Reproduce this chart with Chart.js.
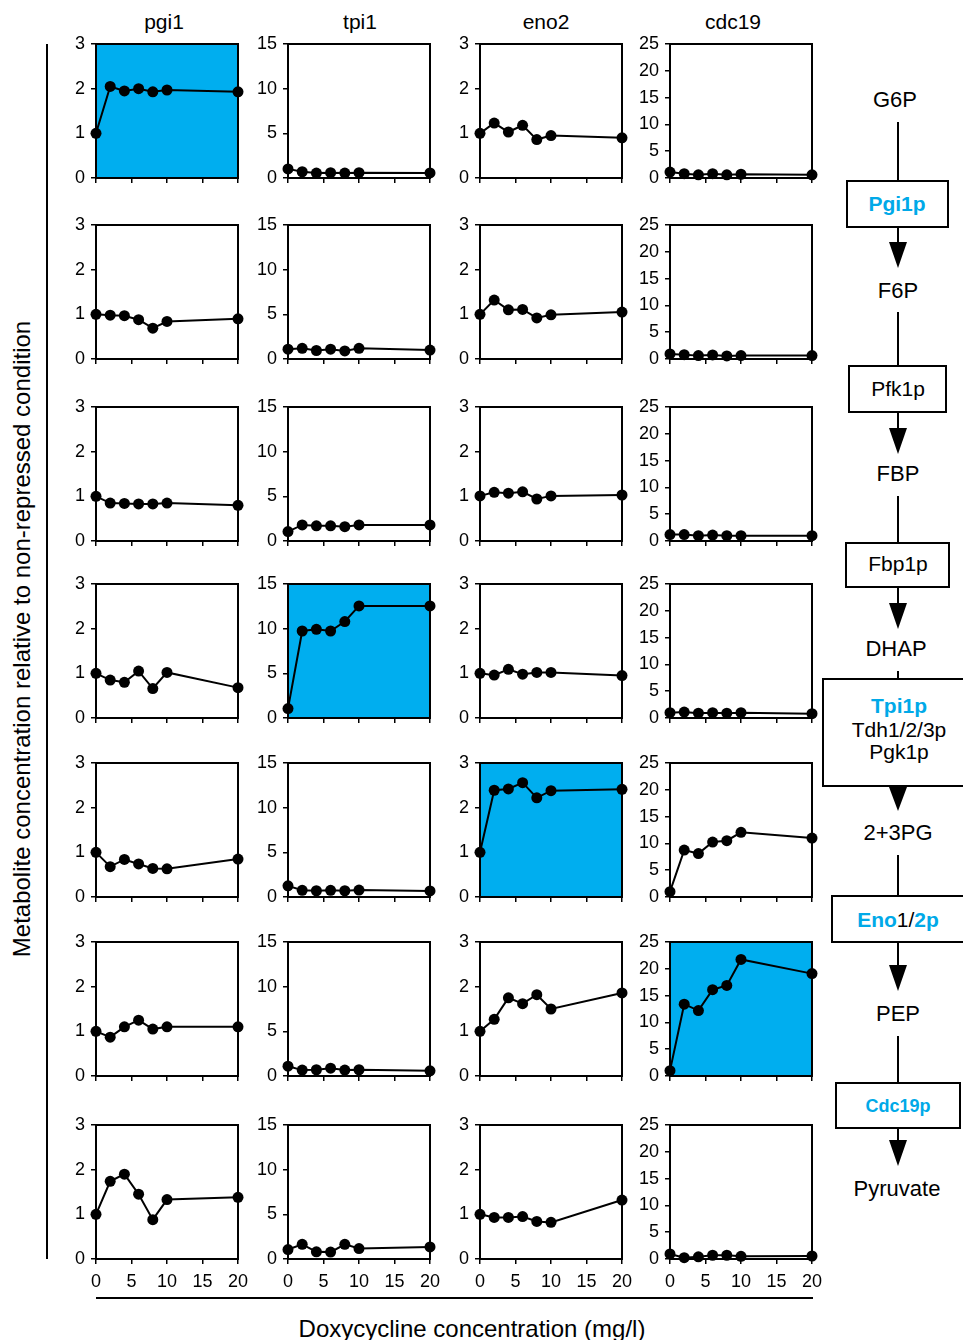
<!DOCTYPE html>
<html>
<head>
<meta charset="utf-8">
<script src="https://cdn.jsdelivr.net/npm/chart.js@4.4.1/dist/chart.umd.min.js"></script>
<style>
  html, body { margin: 0; padding: 0; background: #fff; }
  #page { position: relative; width: 963px; height: 1340px; overflow: hidden; }
  #page canvas { position: absolute; }
  #deco { position: absolute; left: 0; top: 0; }
</style>
</head>
<body>
<div id="page">
<svg id="deco" width="963" height="1340" xmlns="http://www.w3.org/2000/svg"
     font-family="'Liberation Sans', Arial, sans-serif">
  <!-- column titles -->
  <g font-size="21" text-anchor="middle" fill="#000">
    <text x="164" y="29">pgi1</text>
    <text x="360" y="29">tpi1</text>
    <text x="546" y="29">eno2</text>
    <text x="733" y="29">cdc19</text>
  </g>
  <!-- axis titles and frame lines -->
  <line x1="47" y1="44" x2="47" y2="1259" stroke="#000" stroke-width="2"/>
  <text transform="translate(30,639) rotate(-90)" font-size="24" text-anchor="middle">Metabolite concentration relative to non-repressed condition</text>
  <line x1="96" y1="1298" x2="813" y2="1298" stroke="#000" stroke-width="2"/>
  <text x="472" y="1337" font-size="24" text-anchor="middle">Doxycycline concentration (mg/l)</text>

  <!-- pathway -->
  <g font-size="22" text-anchor="middle" fill="#000">
    <text x="895" y="107">G6P</text>
    <text x="898" y="298">F6P</text>
    <text x="898" y="481">FBP</text>
    <text x="896" y="656">DHAP</text>
    <text x="898" y="840">2+3PG</text>
    <text x="898" y="1021">PEP</text>
    <text x="897" y="1196">Pyruvate</text>
  </g>
  <g stroke="#000" stroke-width="2" fill="none">
    <line x1="898" y1="122" x2="898" y2="181"/>
    <line x1="898" y1="312" x2="898" y2="366"/>
    <line x1="898" y1="496" x2="898" y2="543"/>
    <line x1="898" y1="671" x2="898" y2="679"/>
    <line x1="898" y1="855" x2="898" y2="896"/>
    <line x1="898" y1="1036" x2="898" y2="1083"/>

    <line x1="898" y1="227" x2="898" y2="244"/>
    <line x1="898" y1="412" x2="898" y2="429"/>
    <line x1="898" y1="587" x2="898" y2="604"/>
    <line x1="898" y1="942" x2="898" y2="966"/>
    <line x1="898" y1="1128" x2="898" y2="1141"/>

    <rect x="847" y="181" width="101" height="46" fill="#fff"/>
    <rect x="849" y="366" width="97" height="46" fill="#fff"/>
    <rect x="846" y="543" width="103" height="44" fill="#fff"/>
    <rect x="823" y="679" width="160" height="107" fill="#fff"/>
    <rect x="832" y="896" width="150" height="46" fill="#fff"/>
    <rect x="836" y="1083" width="124" height="45" fill="#fff"/>
  </g>
  <g fill="#000">
    <polygon points="889,242 907,242 898,268"/>
    <polygon points="889,428 907,428 898,454"/>
    <polygon points="889,603 907,603 898,629"/>
    <polygon points="889,787 907,787 898,811"/>
    <polygon points="889,965 907,965 898,991"/>
    <polygon points="889,1140 907,1140 898,1166"/>
  </g>
  <g text-anchor="middle" font-size="21">
    <text x="897" y="211" fill="#00A9E8" font-weight="bold">Pgi1p</text>
    <text x="898" y="396" fill="#000">Pfk1p</text>
    <text x="898" y="571" fill="#000">Fbp1p</text>
    <text x="899" y="713" fill="#00A9E8" font-weight="bold">Tpi1p</text>
    <text x="899" y="737" fill="#000">Tdh1/2/3p</text>
    <text x="899" y="759" fill="#000">Pgk1p</text>
    <text x="898" y="927"><tspan fill="#00A9E8" font-weight="bold">Eno</tspan><tspan fill="#000">1/</tspan><tspan fill="#00A9E8" font-weight="bold">2p</tspan></text>
    <text x="898" y="1112" fill="#00A9E8" font-weight="bold" font-size="18">Cdc19p</text>
  </g>
</svg>
</div>
<script>
// doxycycline concentrations (mg/l)
const doxy = [0, 2, 4, 6, 8, 10, 20];
const xTicks = [0, 5, 10, 15, 20];

const strains = ['pgi1', 'tpi1', 'eno2', 'cdc19'];
const metabolites = ['G6P', 'F6P', 'FBP', 'DHAP', '2+3PG', 'PEP', 'Pyruvate'];

// y tick labels per strain column
const yTicksPgi1 = [0, 1, 2, 3];
const yTicksTpi1 = [0, 5, 10, 15];
const yTicksEno2 = [0, 1, 2, 3];
const yTicksCdc19 = [0, 5, 10, 15, 20, 25];

// which metabolite row is shaded for each strain
const shadedRow = [0, 3, 4, 5];

// G6P
const g6pPgi1 = [1.0, 2.05, 1.95, 2.0, 1.93, 1.97, 1.93];
const g6pTpi1 = [1.02, 0.7, 0.55, 0.6, 0.55, 0.6, 0.57];
const g6pEno2 = [1.0, 1.23, 1.03, 1.18, 0.86, 0.95, 0.9];
const g6pCdc19 = [1.1, 0.8, 0.6, 0.8, 0.6, 0.7, 0.6];
// F6P
const f6pPgi1 = [1.0, 0.98, 0.97, 0.88, 0.69, 0.84, 0.9];
const f6pTpi1 = [1.1, 1.2, 0.95, 1.1, 0.9, 1.2, 1.0];
const f6pEno2 = [1.0, 1.32, 1.1, 1.11, 0.92, 0.99, 1.05];
const f6pCdc19 = [0.94, 0.8, 0.63, 0.75, 0.57, 0.63, 0.63];
// FBP
const fbpPgi1 = [1.0, 0.85, 0.84, 0.83, 0.83, 0.85, 0.8];
const fbpTpi1 = [1.05, 1.8, 1.7, 1.7, 1.6, 1.8, 1.8];
const fbpEno2 = [1.01, 1.09, 1.07, 1.1, 0.94, 1.01, 1.03];
const fbpCdc19 = [1.2, 1.2, 1.0, 1.1, 1.0, 1.0, 1.0];
// DHAP
const dhapPgi1 = [1.0, 0.85, 0.8, 1.05, 0.66, 1.02, 0.68];
const dhapTpi1 = [1.05, 9.74, 9.93, 9.74, 10.8, 12.55, 12.55];
const dhapEno2 = [1.0, 0.96, 1.09, 0.98, 1.02, 1.02, 0.95];
const dhapCdc19 = [1.0, 1.1, 0.9, 1.0, 0.9, 1.0, 0.8];
// 2+3PG
const pgPgi1 = [1.0, 0.68, 0.84, 0.74, 0.64, 0.63, 0.85];
const pgTpi1 = [1.25, 0.75, 0.7, 0.75, 0.7, 0.78, 0.68];
const pgEno2 = [1.0, 2.39, 2.42, 2.56, 2.22, 2.38, 2.41];
const pgCdc19 = [1.0, 8.75, 8.1, 10.25, 10.5, 12.06, 11.0];
// PEP
const pepPgi1 = [1.0, 0.87, 1.1, 1.25, 1.05, 1.1, 1.1];
const pepTpi1 = [1.1, 0.66, 0.7, 0.88, 0.66, 0.7, 0.58];
const pepEno2 = [1.0, 1.27, 1.75, 1.62, 1.82, 1.5, 1.86];
const pepCdc19 = [1.0, 13.4, 12.2, 16.1, 16.9, 21.75, 19.1];
// Pyruvate
const pyrPgi1 = [1.0, 1.74, 1.9, 1.45, 0.88, 1.33, 1.38];
const pyrTpi1 = [1.06, 1.64, 0.8, 0.77, 1.64, 1.17, 1.35];
const pyrEno2 = [1.0, 0.93, 0.93, 0.95, 0.84, 0.82, 1.32];
const pyrCdc19 = [0.94, 0.25, 0.4, 0.7, 0.7, 0.5, 0.56];

const grid = [
  [g6pPgi1, g6pTpi1, g6pEno2, g6pCdc19],
  [f6pPgi1, f6pTpi1, f6pEno2, f6pCdc19],
  [fbpPgi1, fbpTpi1, fbpEno2, fbpCdc19],
  [dhapPgi1, dhapTpi1, dhapEno2, dhapCdc19],
  [pgPgi1, pgTpi1, pgEno2, pgCdc19],
  [pepPgi1, pepTpi1, pepEno2, pepCdc19],
  [pyrPgi1, pyrTpi1, pyrEno2, pyrCdc19]
];
const yTicksByCol = [yTicksPgi1, yTicksTpi1, yTicksEno2, yTicksCdc19];

// panel placement (plot area, px)
const colLeft = [96, 288, 480, 670];
const rowTop = [44, 225, 407, 584, 763, 942, 1125];
const plotW = 142, plotH = 134;
// padTop / padRight must exceed the scales' own label padding so the plot area stays put
const yAxisW = 50, xAxisH = 40, padTop = 20, padRight = 20;

const SHADE = '#00AEEF';
const FONT = "'Liberation Sans', Arial, sans-serif";

Chart.defaults.font.family = FONT;

// blue background + closed frame around the plot area
const panelFrame = {
  id: 'panelFrame',
  beforeDraw(chart, args, opts) {
    if (!opts.fill) return;
    const a = chart.chartArea, ctx = chart.ctx;
    ctx.save();
    ctx.fillStyle = opts.fill;
    ctx.fillRect(a.left, a.top, a.right - a.left, a.bottom - a.top);
    ctx.restore();
  },
  beforeDatasetsDraw(chart) {
    const a = chart.chartArea, ctx = chart.ctx;
    ctx.save();
    ctx.strokeStyle = '#000';
    ctx.lineWidth = 2;
    ctx.strokeRect(a.left, a.top, a.right - a.left, a.bottom - a.top);
    ctx.restore();
  }
};

const page = document.getElementById('page');

grid.forEach((row, r) => {
  row.forEach((values, c) => {
    const cv = document.createElement('canvas');
    const w = yAxisW + plotW + padRight;
    const h = padTop + plotH + xAxisH;
    cv.width = w;
    cv.height = h;
    cv.style.left = (colLeft[c] - yAxisW) + 'px';
    cv.style.top = (rowTop[r] - padTop) + 'px';
    cv.style.width = w + 'px';
    cv.style.height = h + 'px';
    page.appendChild(cv);

    const yt = yTicksByCol[c];
    const lastRow = r === grid.length - 1;

    new Chart(cv, {
      type: 'line',
      data: {
        datasets: [{
          label: metabolites[r] + ' / ' + strains[c],
          data: doxy.map((x, i) => ({ x: x, y: values[i] })),
          borderColor: '#000',
          borderWidth: 2,
          pointRadius: 5.5,
          pointBackgroundColor: '#000',
          pointBorderWidth: 0,
          tension: 0,
          clip: false
        }]
      },
      options: {
        responsive: false,
        animation: false,
        events: [],
        devicePixelRatio: 1,
        layout: { padding: { top: padTop, right: padRight, left: 0, bottom: 0 } },
        plugins: {
          legend: { display: false },
          tooltip: { enabled: false },
          panelFrame: { fill: shadedRow[c] === r ? SHADE : null }
        },
        scales: {
          x: {
            type: 'linear',
            min: xTicks[0],
            max: xTicks[xTicks.length - 1],
            afterBuildTicks: s => { s.ticks = xTicks.map(v => ({ value: v })); },
            afterFit: s => { s.height = xAxisH; },
            grid: { drawOnChartArea: false, drawTicks: true, tickLength: 5, color: '#000', lineWidth: 1.5 },
            border: { display: true, color: '#000', width: 2 },
            ticks: {
              color: lastRow ? '#000' : 'rgba(0,0,0,0)',
              font: { size: 18 },
              padding: 7,
              maxRotation: 0,
              autoSkip: false
            }
          },
          y: {
            min: yt[0],
            max: yt[yt.length - 1],
            afterBuildTicks: s => { s.ticks = yt.map(v => ({ value: v })); },
            afterFit: s => { s.width = yAxisW; },
            grid: { drawOnChartArea: false, drawTicks: true, tickLength: 5, color: '#000', lineWidth: 1.5 },
            border: { display: true, color: '#000', width: 2 },
            ticks: { color: '#000', font: { size: 18 }, padding: 6, autoSkip: false }
          }
        }
      },
      plugins: [panelFrame]
    });
  });
});
</script>
</body>
</html>
